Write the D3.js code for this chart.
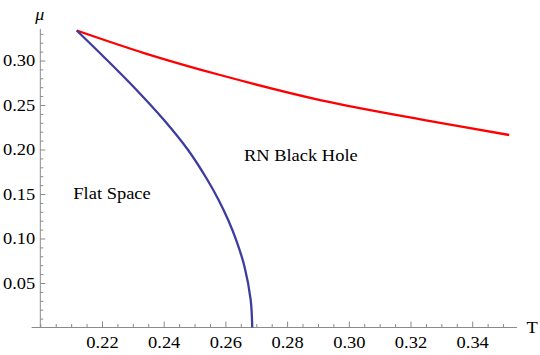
<!DOCTYPE html>
<html>
<head>
<meta charset="utf-8">
<script src="https://cdn.jsdelivr.net/npm/d3@7"></script>
<style>
  html, body { margin: 0; padding: 0; background: #fff; }
  svg { display: block; }
  svg text { font-family: 'Liberation Serif', 'Times New Roman', serif !important; fill: #000; }
</style>
</head>
<body>
<svg id="chart" width="540" height="355"></svg>
<script>
// ---- data ----
const blueT  = [0.2118, 0.2216, 0.2312, 0.2401, 0.2479, 0.2542, 0.2578, 0.2609, 0.2635, 0.2662, 0.2682, 0.2687];
const blueMu = [0.3337, 0.3006, 0.2669, 0.2331, 0.1994, 0.1657, 0.1433, 0.1208, 0.0983, 0.0683, 0.0309, 0.0000];
const redT   = [0.2118, 0.2339, 0.2583, 0.2907, 0.3264, 0.3520];
const redMu  = [0.3337, 0.3081, 0.2837, 0.2556, 0.2320, 0.2163];
const xTicks = [0.22, 0.24, 0.26, 0.28, 0.30, 0.32, 0.34];
const yTicks = [0.05, 0.10, 0.15, 0.20, 0.25, 0.30];
const xMinor = d3.range(0, 31).map(i => +(0.2 + i * 0.005).toFixed(3)).filter(v => v <= 0.3545 && !xTicks.includes(v));
const yMinor = d3.range(1, 34).map(i => +(i * 0.01).toFixed(2)).filter(v => !yTicks.some(t => Math.abs(t - v) < 1e-9));
const labels = [
  { text: "Flat Space", T: 0.2107, mu: 0.1440 },
  { text: "RN Black Hole", T: 0.2660, mu: 0.1874 }
];

// ---- layout ----
const FS = 16.5, SX = 1.12;
const SERIF = "'Liberation Serif', 'Times New Roman', serif";
const x = d3.scaleLinear().domain([0.2, 0.36]).range([40.3, 40.3 + 0.16 * 3085]);
const y = d3.scaleLinear().domain([0, 0.35]).range([327.5, 327.5 - 0.35 * 890]);
const svg = d3.select("#chart");
const axisColor = "#8a8a8a";

// x axis
const gx = svg.append("g").attr("transform", `translate(0,${y(0)})`);
gx.append("g").call(d3.axisBottom(x).tickValues(xMinor).tickSize(-3.5).tickFormat(""))
  .call(g => g.select(".domain").remove());
gx.append("g").call(d3.axisBottom(x).tickValues(xTicks).tickSize(-6).tickPadding(9).tickFormat(d3.format(".2f")))
  .call(g => g.select(".domain").remove());
gx.selectAll("g").attr("font-family", SERIF).attr("font-size", FS);
gx.selectAll("line").attr("stroke", axisColor);
gx.selectAll("text").attr("font-size", FS).attr("font-family", SERIF)
  .attr("transform", `scale(${SX},1)`).attr("fill", "#000");
gx.append("line").attr("x1", x(0.1972)).attr("x2", x(0.3545)).attr("stroke", axisColor);

// y axis
const gy = svg.append("g").attr("transform", `translate(${x(0.2)},0)`);
gy.append("g").call(d3.axisLeft(y).tickValues(yMinor).tickSize(-3).tickFormat(""))
  .call(g => g.select(".domain").remove());
gy.append("g").call(d3.axisLeft(y).tickValues(yTicks).tickSize(-5).tickPadding(5).tickFormat(d3.format(".2f")))
  .call(g => g.select(".domain").remove());
gy.selectAll("g").attr("font-family", SERIF).attr("font-size", FS);
gy.selectAll("line").attr("stroke", axisColor);
gy.selectAll("text").attr("font-size", FS).attr("font-family", SERIF).attr("x", 0)
  .attr("transform", `translate(-5,0) scale(${SX},1)`).attr("fill", "#000");
gy.append("line").attr("y1", y(0)).attr("y2", y(0.3354)).attr("stroke", axisColor);

// axis titles
svg.append("text").attr("transform", `translate(${x(0.2) - 0.5},19.5) scale(${SX},1)`)
  .attr("text-anchor", "middle").attr("font-size", 16).attr("font-style", "italic").text("μ");
svg.append("text").attr("transform", `translate(526.5,${y(0) + 5.8}) scale(${SX},1)`)
  .attr("font-size", FS).text("T");

// curves
const curve = d3.curveCatmullRom.alpha(0.5);
const line = d3.line().x(d => x(d[0])).y(d => y(d[1])).curve(curve);
svg.append("path")
  .datum(redT.map((t, i) => [t, redMu[i]]))
  .attr("d", line)
  .attr("fill", "none").attr("stroke", "#ff0000").attr("stroke-width", 2.3);
svg.append("path")
  .datum(blueT.map((t, i) => [t, blueMu[i]]))
  .attr("d", line)
  .attr("fill", "none").attr("stroke", "#3d3d9e").attr("stroke-width", 2.3);

// region labels
svg.selectAll(".lbl").data(labels).enter().append("text")
  .attr("class", "lbl")
  .attr("transform", d => `translate(${x(d.T)},${y(d.mu)}) scale(${SX},1)`)
  .attr("font-size", FS).text(d => d.text);
</script>
</body>
</html>
